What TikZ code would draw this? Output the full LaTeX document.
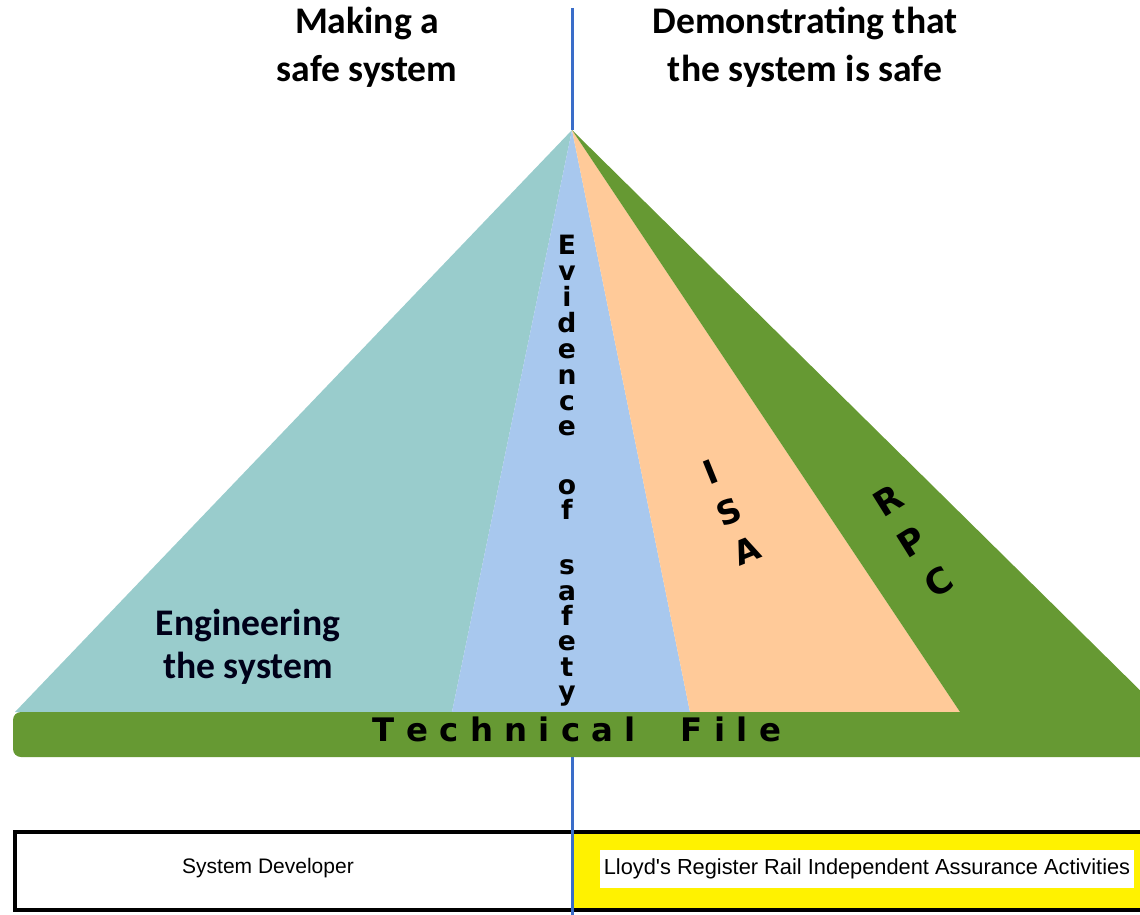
\documentclass[tikz,border=0pt]{standalone}
\usepackage{fontspec}
\setmainfont{Carlito}
\newfontfamily\verdfont{DejaVu Sans}
\newfontfamily\arialfont{Liberation Sans}
\usepackage{tikz}
\usetikzlibrary{positioning}
\usepackage{xcolor}
\definecolor{tealpyr}{HTML}{99CCCC}
\definecolor{bluepyr}{HTML}{A8C8EE}
\definecolor{peachpyr}{HTML}{FFCA99}
\definecolor{greenpyr}{HTML}{669933}
\definecolor{axisblue}{HTML}{3A6DC9}
\tikzset{
  headline/.style={font=\bfseries\fontsize{18.8}{24}\selectfont, align=center},
  stackletter/.style={font=\verdfont\bfseries\fontsize{13.3}{15}\selectfont, anchor=base, inner sep=0pt},
  slantletter/.style={font=\verdfont\bfseries\fontsize{16.5}{18}\selectfont, inner sep=0pt},
  boxtext/.style={font=\arialfont\fontsize{10.5}{12}\selectfont}
}

\begin{document}
\begin{tikzpicture}[x=0.5pt,y=-0.5pt]
    \useasboundingbox (0,0) rectangle (1140,915);
    \clip (0,0) rectangle (1140,915);

    % Piramide
    \coordinate (apex) at (572,130);
    \fill[tealpyr] (apex) -- (15,712) -- (452,712) -- cycle;
    \fill[bluepyr] (apex) -- (452,712) -- (690,712) -- cycle;
    \fill[peachpyr] (apex) -- (690,712) -- (960,712) -- cycle;
    \fill[greenpyr] (apex) -- (960,712) -- (1162,712) -- cycle;
    \fill[greenpyr, rounded corners=4] (13,712) rectangle (1180,757);

    % Linea central
    \draw[axisblue, line width=1.5pt] (572,8) -- (apex);

    % Titoli
    \node[headline] (making) at (367,47) {Making a\\safe system};
    \node[headline] (demo) at (805,47) {Demonstrating that\\the system is safe};
    \node[headline, font=\bfseries\fontsize{18.8}{21.5}\selectfont, text=black!90!blue] (eng) at (248,647) {Engineering\\the system};

    % Evidence of safety
    \foreach \c/\yy [count=\k] in {E/254, v/280, i/306, d/332, e/358, n/384, c/410, e/435,
        o/494, f/519, s/574, a/600, f/625, e/650, t/676, y/700}
        \node[stackletter] (ev\k) at (567,\yy) {\c};

    % ISA e RPC
    \node[slantletter, rotate=22] (isaI) at (711,472) {I};
    \node[slantletter, rotate=22] (isaS) at (729,512) {S};
    \node[slantletter, rotate=22] (isaA) at (747,551) {A};
    \node[slantletter, font=\verdfont\bfseries\fontsize{17.5}{20}\selectfont, rotate=32] (rpcR) at (888,501) {R};
    \node[slantletter, font=\verdfont\bfseries\fontsize{17.5}{20}\selectfont, rotate=32] (rpcP) at (912,542) {P};
    \node[slantletter, font=\verdfont\bfseries\fontsize{17.5}{20}\selectfont, rotate=32] (rpcC) at (939,582) {C};

    % Technical File
    \node[font=\verdfont\bfseries\fontsize{16.2}{18}\selectfont] (tfile) at (577,729) {T e c h n i c a l \ \ \ F i l e};

    % Riquadro in basso
    \fill[yellow] (572,832) rectangle (1180,910);
    \draw[line width=2.2pt] (15,832) rectangle (1180,910);
    \draw[axisblue, line width=1.5pt] (572,757) -- (572,915);
    \node[boxtext] (developer) at (268,868) {System Developer};
    \node[boxtext, font=\arialfont\fontsize{10.9}{12}\selectfont, fill=white, inner xsep=2pt, inner ysep=4.5pt] (lrr) at (867,869) {Lloyd's Register Rail Independent Assurance Activities};
\end{tikzpicture}
\end{document}
